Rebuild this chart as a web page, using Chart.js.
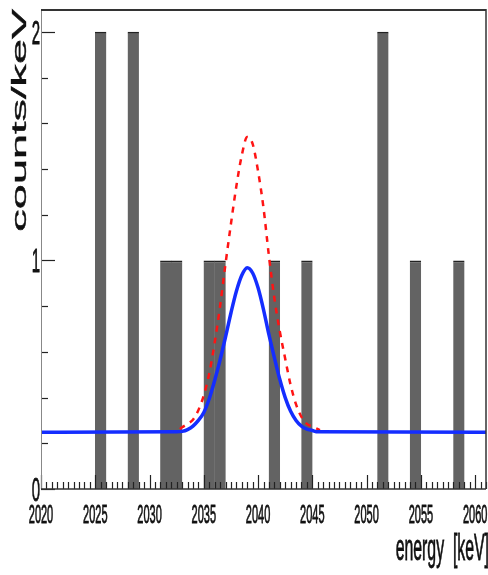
<!DOCTYPE html>
<html>
<head>
<meta charset="utf-8">
<script src="https://cdn.jsdelivr.net/npm/chart.js@4/dist/chart.umd.min.js"></script>
<style>
  html, body { margin: 0; padding: 0; background: #fff; }
  #spectrum { display: block; }
</style>
</head>
<body>
<canvas id="spectrum" width="488" height="575"></canvas>
<script>
'use strict';

// histogram: low edge of each 1 keV bin and its content (counts/keV)
const binLow = [2020, 2021, 2022, 2023, 2024, 2025, 2026, 2027, 2028, 2029,
                2030, 2031, 2032, 2033, 2034, 2035, 2036, 2037, 2038, 2039,
                2040, 2041, 2042, 2043, 2044, 2045, 2046, 2047, 2048, 2049,
                2050, 2051, 2052, 2053, 2054, 2055, 2056, 2057, 2058, 2059, 2060];
const counts = [0, 0, 0, 0, 0, 2, 0, 0, 2, 0,
                0, 1, 1, 0, 0, 1, 1, 0, 0, 0,
                0, 1, 0, 0, 1, 0, 0, 0, 0, 0,
                0, 2, 0, 0, 1, 0, 0, 0, 1, 0, 0];

// fitted model (blue, solid)
const fitEnergy = [2020, 2032.5, 2033, 2033.5, 2034, 2034.5, 2035, 2035.5, 2036, 2036.5,
                   2037, 2037.5, 2038, 2038.5, 2039, 2039.5, 2040, 2040.5, 2041, 2041.5,
                   2042, 2042.5, 2043, 2043.5, 2044, 2044.5, 2045, 2045.5, 2061];
const fitValue = [0.248, 0.25, 0.252, 0.26, 0.275, 0.30, 0.335, 0.395, 0.475, 0.565,
                  0.665, 0.77, 0.865, 0.935, 0.968, 0.945, 0.88, 0.785, 0.675, 0.575,
                  0.48, 0.40, 0.34, 0.30, 0.275, 0.262, 0.256, 0.25, 0.248];

// limit signal (red, dashed)
const limitEnergy = [2032.8, 2033, 2033.5, 2034, 2034.5, 2035, 2035.5, 2036, 2036.5,
                     2037, 2037.5, 2038, 2038.5, 2039, 2039.5, 2040, 2040.5, 2041, 2041.5,
                     2042, 2042.5, 2043, 2043.5, 2044, 2044.5, 2045, 2045.7];
const limitValue = [0.262, 0.27, 0.285, 0.303, 0.345, 0.41, 0.505, 0.64, 0.80,
                    0.985, 1.16, 1.325, 1.46, 1.54, 1.51, 1.39, 1.23, 1.02, 0.835,
                    0.69, 0.57, 0.455, 0.37, 0.315, 0.285, 0.273, 0.258];

// axis labels
const xLabelValues = [2020, 2025, 2030, 2035, 2040, 2045, 2050, 2055, 2060];
const xLabels = ['2020', '2025', '2030', '2035', '2040', '2045', '2050', '2055', '2060'];
const yLabelValues = [0, 1, 2];
const yLabels = ['0', '1', '2'];
const xTitle = 'energy  [keV]';
const yTitle = 'counts/keV';

const FONT = '"Liberation Sans", Arial, sans-serif';
const SQUEEZE = 0.44;   // the original plot is squeezed horizontally

function squeezedText(ctx, text, x, y, size, align, rotated) {
    ctx.save();
    ctx.translate(x, y);
    if (rotated) {
        ctx.rotate(-Math.PI / 2);
        ctx.scale(1, SQUEEZE);
    } else {
        ctx.scale(SQUEEZE, 1);
    }
    ctx.font = size + 'px ' + FONT;
    ctx.textAlign = align;
    ctx.textBaseline = 'alphabetic';
    ctx.fillStyle = '#111';
    ctx.strokeStyle = '#111';
    ctx.lineWidth = 0.8;
    ctx.fillText(text, 0, 0);
    ctx.strokeText(text, 0, 0);
    ctx.restore();
}

const rootAxes = {
    id: 'rootAxes',
    afterDraw(chart) {
        const ctx = chart.ctx;
        const xs = chart.scales.x, ys = chart.scales.y;
        const a = chart.chartArea;
        ctx.save();

        // x ticks, pointing into the frame
        ctx.strokeStyle = '#222';
        ctx.lineWidth = 1.2;
        for (let v = xs.min; v <= xs.max + 1e-6; v += 0.5) {
            const px = Math.round(xs.getPixelForValue(v)) + 0.5;
            const len = (Math.abs(v % 5) < 1e-6) ? 14 : 7;
            ctx.beginPath();
            ctx.moveTo(px, a.bottom);
            ctx.lineTo(px, a.bottom - len);
            ctx.stroke();
        }
        // y ticks
        for (let i = 0; i <= 10; i++) {
            const v = i * 0.2;
            const py = Math.round(ys.getPixelForValue(v)) + 0.5;
            const len = (i % 5 === 0) ? 14 : 7;
            ctx.beginPath();
            ctx.moveTo(a.left, py);
            ctx.lineTo(a.left + len, py);
            ctx.stroke();
        }

        // frame
        ctx.strokeStyle = '#888';
        ctx.lineWidth = 1;
        ctx.beginPath();
        ctx.moveTo(a.left + 0.5, a.top);
        ctx.lineTo(a.left + 0.5, a.bottom);
        ctx.stroke();
        ctx.strokeStyle = '#333';
        ctx.lineWidth = 2;
        ctx.beginPath();
        ctx.moveTo(a.left, a.top + 1);
        ctx.lineTo(a.right, a.top + 1);
        ctx.stroke();
        ctx.lineWidth = 1.5;
        ctx.beginPath();
        ctx.moveTo(a.right, a.top);
        ctx.lineTo(a.right, a.bottom);
        ctx.stroke();
        ctx.beginPath();
        ctx.moveTo(a.left, a.bottom);
        ctx.lineTo(a.right, a.bottom);
        ctx.stroke();

        // tick labels
        xLabelValues.forEach((v, i) => {
            squeezedText(ctx, xLabels[i], xs.getPixelForValue(v), a.bottom + 34, 25, 'center', false);
        });
        yLabelValues.forEach((v, i) => {
            squeezedText(ctx, yLabels[i], a.left - 1, ys.getPixelForValue(v) + 12, 34, 'right', false);
        });

        // axis titles
        squeezedText(ctx, xTitle, chart.width + 1, 560, 36, 'right', false);
        squeezedText(ctx, yTitle, 25.5, a.top, 45, 'right', true);

        ctx.restore();
    }
};

const histData = binLow.map((lo, i) => ({ x: lo + 0.5, y: counts[i] }));
const fitData = fitEnergy.map((e, i) => ({ x: e, y: fitValue[i] }));
const limitData = limitEnergy.map((e, i) => ({ x: e, y: limitValue[i] }));

new Chart(document.getElementById('spectrum'), {
    type: 'bar',
    data: {
        datasets: [
            {
                type: 'line',
                label: 'fit',
                data: fitData,
                borderColor: 'rgb(20, 45, 255)',
                borderWidth: 3.5,
                pointRadius: 0,
                fill: false,
                cubicInterpolationMode: 'monotone',
                order: 1
            },
            {
                type: 'line',
                label: 'limit',
                data: limitData,
                borderColor: 'rgb(255, 20, 20)',
                borderWidth: 2.5,
                borderDash: [6, 6],
                pointRadius: 0,
                fill: false,
                cubicInterpolationMode: 'monotone',
                order: 2
            },
            {
                type: 'bar',
                label: 'data',
                data: histData,
                backgroundColor: 'rgb(99, 99, 99)',
                borderColor: '#222',
                borderWidth: { top: 2, left: 0, right: 0, bottom: 0 },
                borderSkipped: false,
                barPercentage: 1.05,   // slight overlap so adjacent bins merge without a seam
                categoryPercentage: 1,
                order: 3
            }
        ]
    },
    options: {
        responsive: false,
        animation: false,
        layout: { padding: { left: 41, top: 9, right: 2, bottom: 86 } },
        scales: {
            x: { type: 'linear', min: 2020, max: 2061, offset: false, display: false },
            y: { type: 'linear', min: 0, max: 2.1, display: false }
        },
        plugins: {
            legend: { display: false },
            tooltip: { enabled: false }
        }
    },
    plugins: [rootAxes]
});
</script>
</body>
</html>
